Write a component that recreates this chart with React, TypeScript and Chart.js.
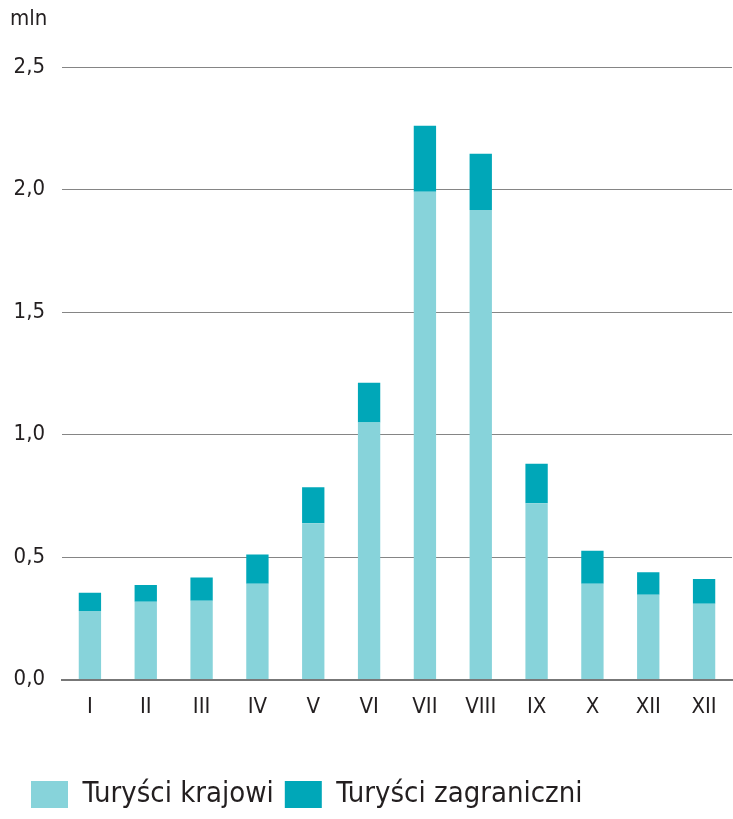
import React, { useEffect, useRef } from "react";
import { Chart, registerables } from "chart.js";

Chart.register(...registerables);

const months = ["I", "II", "III", "IV", "V", "VI", "VII", "VIII", "IX", "X", "XII", "XII"];
const domestic = [0.28, 0.318, 0.322, 0.391, 0.638, 1.049, 1.991, 1.916, 0.72, 0.391, 0.346, 0.31];
const foreign = [0.074, 0.068, 0.095, 0.12, 0.147, 0.162, 0.269, 0.23, 0.161, 0.135, 0.092, 0.101];
const seriesLabels = ["Turyści krajowi", "Turyści zagraniczni"];
const unitLabel = "mln";

const FONT = "'Liberation Sans Narrow', 'DejaVu Sans Condensed', 'Noto Sans', sans-serif";
const TEXT = "#231f20";

export default function App() {
  const ref = useRef<HTMLCanvasElement | null>(null);
  useEffect(() => {
    if (!ref.current) return;
    const unitPlugin = {
      id: "unitLabel",
      afterLayout(chart: any) {
        if (chart.legend) {
          chart.legend.left += 9;
          chart.legend.right += 9;
        }
      },
      afterDraw(chart: any) {
        const ctx = chart.ctx;
        ctx.save();
        ctx.fillStyle = TEXT;
        ctx.font = `22px ${FONT}`;
        ctx.textAlign = "left";
        ctx.textBaseline = "middle";
        ctx.fillText(unitLabel, 10, 19);
        ctx.restore();
      },
    };
    const chart = new Chart(ref.current, {
      type: "bar",
      data: {
        labels: months,
        datasets: [
          {
            label: seriesLabels[0],
            data: domestic,
            backgroundColor: "#87d3da",
            barPercentage: 0.4,
            categoryPercentage: 1,
          },
          {
            label: seriesLabels[1],
            data: foreign,
            backgroundColor: "#00a7b8",
            barPercentage: 0.4,
            categoryPercentage: 1,
          },
        ],
      },
      options: {
        animation: false,
        responsive: false,
        layout: { padding: { top: 67, right: 1, bottom: 0, left: 11 } },
        plugins: {
          tooltip: { enabled: false },
          legend: {
            position: "bottom",
            align: "start",
            labels: {
              boxWidth: 37,
              boxHeight: 27,
              padding: 11,
              color: TEXT,
              font: { family: FONT, size: 29 },
            },
          },
        },
        scales: {
          x: {
            stacked: true,
            grid: { display: false },
            border: { display: true, color: "#777777", width: 2 },
            ticks: { color: TEXT, font: { family: FONT, size: 22 }, padding: 6 },
            afterFit: (s: any) => {
              s.height = s.height + 43;
            },
          },
          y: {
            stacked: true,
            min: 0,
            max: 2.5,
            afterFit: (s: any) => {
              s.width = 51;
            },
            border: { display: false },
            grid: { color: "#858585", lineWidth: 1, drawTicks: false },
            ticks: {
              stepSize: 0.5,
              padding: 17,
              color: TEXT,
              font: { family: FONT, size: 22 },
              callback: (v: any) => Number(v).toFixed(1).replace(".", ","),
            },
          },
        },
      },
      plugins: [unitPlugin],
    });
    return () => chart.destroy();
  }, []);
  return (
    <div style={{ position: "absolute", left: 0, top: 0, width: 733, height: 819, background: "#fff" }}>
      <canvas ref={ref} width={733} height={819} />
    </div>
  );
}
